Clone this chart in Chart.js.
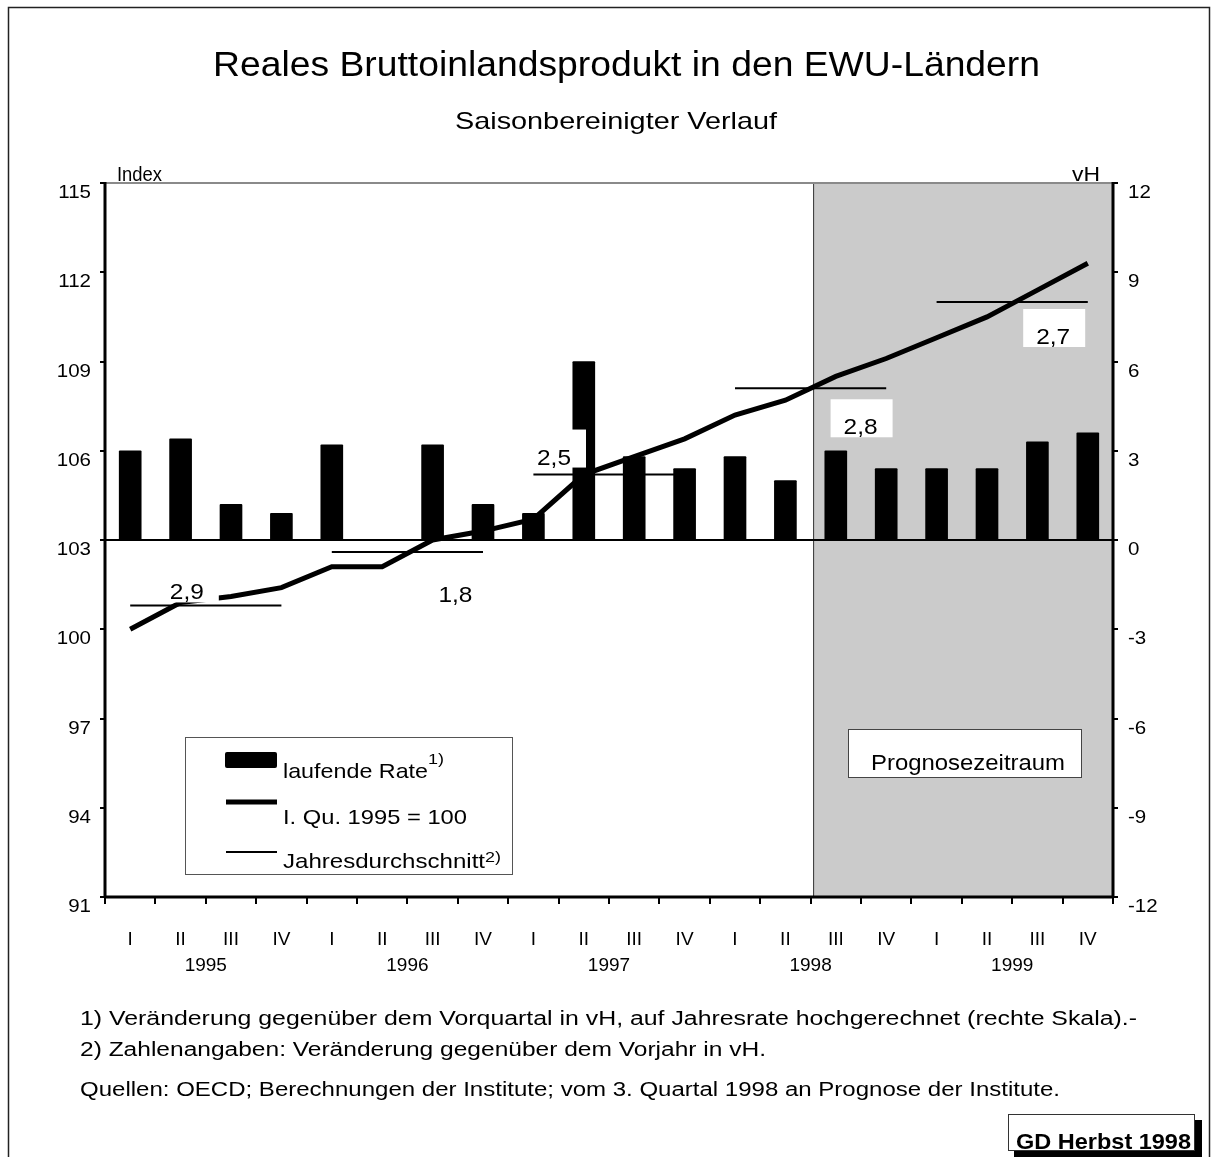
<!DOCTYPE html>
<html>
<head>
<meta charset="utf-8">
<script src="https://cdn.jsdelivr.net/npm/chart.js@4.4.0/dist/chart.umd.min.js"></script>
<style>
html,body{margin:0;padding:0;background:#fff}
canvas{display:block}
</style>
</head>
<body>
<canvas id="bip" width="1212" height="1157"></canvas>
<script>
// Daten
var quartale=['I','II','III','IV','I','II','III','IV','I','II','III','IV','I','II','III','IV','I','II','III','IV'];
var jahre=['1995','1996','1997','1998','1999'];
// laufende Rate, vH (rechte Skala)
var laufendeRate=[3.0,3.4,1.2,0.9,3.2,0,3.2,1.2,0.9,6.0,2.8,2.4,2.8,2.0,3.0,2.4,2.4,2.4,3.3,3.6];
// I. Qu. 1995 = 100 (linke Skala)
var indexWerte=[100.0,100.9,101.1,101.4,102.1,102.1,103.0,103.3,103.7,105.2,105.8,106.4,107.2,107.7,108.5,109.1,109.8,110.5,111.4,112.3];
// Jahresdurchschnitt (Niveau) und Veraenderung gg. Vorjahr
var jahresDurchschnitt=[100.8,102.6,105.2,108.1,111.0];
var jahresRate=['2,9','1,8','2,5','2,8','2,7'];
var prognoseAb=14; // ab 3. Quartal 1998

var FONT='"Liberation Sans", Arial, Helvetica, sans-serif';
var AX_SX=1.08;

// label offsets relative to the year centre / average line
var rateOffset=[[-19,-6],[48,50],[-55,-10],[50,46],[41,42]];

function txt(ctx,s,x,y,size,align,w,bold,sx){
    ctx.save();
    ctx.font=(bold?'bold ':'')+size+'px '+FONT;
    ctx.textAlign=align||'left';
    ctx.textBaseline='alphabetic';
    ctx.fillStyle='#000';
    var f=sx||1;
    if(w){
        f=w/ctx.measureText(s).width;
    }
    ctx.translate(x,y);
    ctx.scale(f,1);
    ctx.fillText(s,0,0);
    ctx.restore();
}

function line(ctx,x1,y1,x2,y2,w,col){
    ctx.save();
    ctx.strokeStyle=col||'#000';
    ctx.lineWidth=w;
    ctx.beginPath();
    ctx.moveTo(x1,y1);
    ctx.lineTo(x2,y2);
    ctx.stroke();
    ctx.restore();
}

// datasets
var ds=[];
ds.push({
    type:'bar',
    label:'laufende Rate',
    data:laufendeRate,
    yAxisID:'y2',
    backgroundColor:'#000',
    barThickness:22,
    borderRadius:1,
    order:3
});
for(var j=0;j<jahre.length;j++){
    var arr=[];
    for(var q=0;q<quartale.length;q++){
        arr.push(Math.floor(q/4)===j ? jahresDurchschnitt[j] : null);
    }
    ds.push({
        type:'line',
        label:'Jahresdurchschnitt '+jahre[j],
        data:arr,
        yAxisID:'y',
        borderColor:'#000',
        borderWidth:2,
        pointRadius:0,
        tension:0,
        order:2
    });
}
ds.push({
    type:'line',
    label:'I. Qu. 1995 = 100',
    data:indexWerte,
    yAxisID:'y',
    borderColor:'#000',
    borderWidth:5,
    pointRadius:0,
    tension:0,
    order:1
});

var decor={
    id:'decor',
    beforeDatasetsDraw:function(chart){
        var ctx=chart.ctx, a=chart.chartArea, x=chart.scales.x, y2=chart.scales.y2;
        // Prognosezeitraum
        var px=(x.getPixelForValue(prognoseAb-1)+x.getPixelForValue(prognoseAb))/2+3;
        ctx.save();
        ctx.fillStyle='#cbcbcb';
        ctx.fillRect(px,a.top,a.right-px,a.bottom-a.top);
        ctx.restore();
        line(ctx,px,a.top,px,a.bottom,1,'#333');
        // Nulllinie
        var z=y2.getPixelForValue(0);
        line(ctx,a.left,z,a.right,z,2,'#000');
    },
    afterDatasetsDraw:function(chart){
        var ctx=chart.ctx, x=chart.scales.x, y=chart.scales.y;
        // Jahresraten mit weissem Hintergrund
        for(var j=0;j<jahre.length;j++){
            var cx=x.getPixelForValue(j*4+1.5)+rateOffset[j][0];
            var by=y.getPixelForValue(jahresDurchschnitt[j])+rateOffset[j][1];
            ctx.save();
            ctx.fillStyle='#fff';
            ctx.fillRect(cx-30,by-35,62,38);
            ctx.restore();
            txt(ctx,jahresRate[j],cx,by,22,'center',34);
        }
        // Legende
        ctx.save();
        ctx.fillStyle='#fff';
        ctx.fillRect(185,737,328,138);
        ctx.strokeStyle='#555';
        ctx.lineWidth=1;
        ctx.strokeRect(185.5,737.5,327,137);
        ctx.fillStyle='#000';
        ctx.beginPath();
        ctx.roundRect(225,752,52,16,2);
        ctx.fill();
        ctx.restore();
        line(ctx,226,802,277,802,5,'#000');
        line(ctx,226,852,277,852,2,'#000');
        txt(ctx,'laufende Rate',283,778,21,'left',145);
        txt(ctx,'1)',428,764,15,'left',16);
        txt(ctx,'I. Qu. 1995 = 100',283,824,21,'left',184);
        txt(ctx,'Jahresdurchschnitt',283,868,21,'left',202);
        txt(ctx,'2)',485,862,15,'left',16);
        // Prognosezeitraum-Kasten
        ctx.save();
        ctx.fillStyle='#fff';
        ctx.fillRect(848,729,234,49);
        ctx.strokeStyle='#444';
        ctx.lineWidth=1;
        ctx.strokeRect(848.5,729.5,233,48);
        ctx.restore();
        txt(ctx,'Prognosezeitraum',968,770,22,'center',194);
    },
    afterDraw:function(chart){
        var ctx=chart.ctx, a=chart.chartArea, x=chart.scales.x, y=chart.scales.y, y2=chart.scales.y2;
        // Achsenlinien
        line(ctx,a.left,a.top,a.right,a.top,2,'#8a8a8a');
        line(ctx,a.left,a.top-1,a.left,a.bottom+1,3,'#000');
        line(ctx,a.right,a.top-1,a.right,a.bottom+1,3,'#000');
        line(ctx,a.left-1,a.bottom,a.right+1,a.bottom,3,'#000');
        // Skalenbeschriftung
        y.ticks.forEach(function(t){
            var py=y.getPixelForValue(t.value);
            txt(ctx,String(t.value),91,py+15,19,'right',0,false,AX_SX);
        });
        y2.ticks.forEach(function(t){
            var py=y2.getPixelForValue(t.value);
            txt(ctx,String(t.value),1128,py+15,19,'left',0,false,AX_SX);
        });
        quartale.forEach(function(q,i){
            txt(ctx,q,x.getPixelForValue(i),945,19,'center',0,false,1.0);
        });
        jahre.forEach(function(jj,j){
            txt(ctx,jj,x.getPixelForValue(j*4+1.5),971,19,'center',0,false,1.0);
        });
        txt(ctx,'Index',117,181,20,'left',45);
        txt(ctx,'vH',1072,181,20,'left',28);
        // Titel
        txt(ctx,'Reales Bruttoinlandsprodukt in den EWU-Ländern',213,76,35,'left',827);
        txt(ctx,'Saisonbereinigter Verlauf',455,129,24,'left',322);
        // Fussnoten
        txt(ctx,'1) Veränderung gegenüber dem Vorquartal in vH, auf Jahresrate hochgerechnet (rechte Skala).-',80,1025,20,'left',1057);
        txt(ctx,'2) Zahlenangaben: Veränderung gegenüber dem Vorjahr in vH.',80,1056,20,'left',686);
        txt(ctx,'Quellen: OECD; Berechnungen der Institute; vom 3. Quartal 1998 an Prognose der Institute.',80,1096,20,'left',980);
        // GD Herbst 1998
        ctx.save();
        ctx.fillStyle='#000';
        ctx.fillRect(1014,1120,188,37);
        ctx.fillStyle='#fff';
        ctx.fillRect(1008,1114,187,37);
        ctx.strokeStyle='#333';
        ctx.lineWidth=1;
        ctx.strokeRect(1008.5,1114.5,186,36);
        ctx.restore();
        txt(ctx,'GD Herbst 1998',1016,1149,22,'left',175,true);
        // Rahmen
        ctx.save();
        ctx.strokeStyle='#222';
        ctx.lineWidth=1.5;
        ctx.strokeRect(8.5,7.5,1201,1160);
        ctx.restore();
    }
};

new Chart(document.getElementById('bip'),{
    type:'bar',
    data:{labels:quartale,datasets:ds},
    plugins:[decor],
    options:{
        responsive:false,
        animation:false,
        devicePixelRatio:1,
        layout:{padding:{top:183,left:0,right:0,bottom:0}},
        plugins:{legend:{display:false},tooltip:{enabled:false},title:{display:false}},
        scales:{
            x:{
                type:'category',
                offset:true,
                grid:{offset:true,drawOnChartArea:false,drawTicks:true,tickLength:7,color:'#000',lineWidth:2},
                border:{display:false},
                ticks:{display:false},
                afterFit:function(s){s.height=260;}
            },
            y:{
                position:'left',
                min:91,max:115,
                ticks:{stepSize:3,display:false},
                grid:{drawOnChartArea:false,drawTicks:true,tickLength:5,color:'#000',lineWidth:2},
                border:{display:false},
                afterFit:function(s){s.width=105;}
            },
            y2:{
                position:'right',
                min:-12,max:12,
                ticks:{stepSize:3,display:false},
                grid:{drawOnChartArea:false,drawTicks:true,tickLength:5,color:'#000',lineWidth:2},
                border:{display:false},
                afterFit:function(s){s.width=99;}
            }
        }
    }
});
</script>
</body>
</html>
